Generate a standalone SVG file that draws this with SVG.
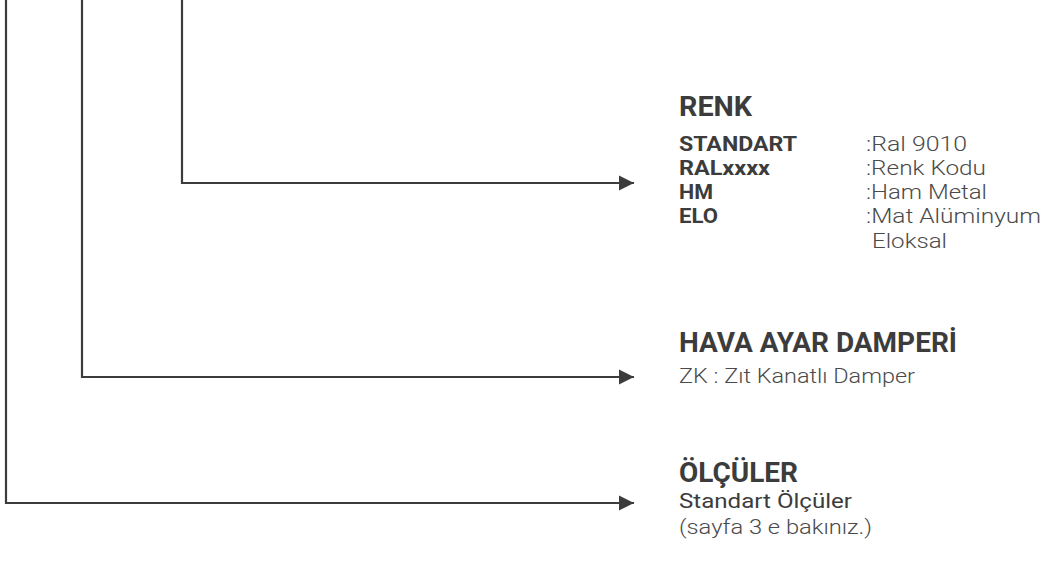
<svg xmlns="http://www.w3.org/2000/svg" width="1049" height="571" viewBox="0 0 1049 571">
<style>
.c{fill:none;stroke:#3c3c3c;stroke-width:2.2}
.h{font-family:Roboto,"Liberation Sans",sans-serif;font-weight:700;font-size:27px;fill:#3c3c3c}
.b{font-family:Roboto,"Liberation Sans",sans-serif;font-weight:700;font-size:20px;fill:#3c3c3c}
.m{font-family:Roboto,"Liberation Sans",sans-serif;font-weight:400;font-size:21px;fill:#3c3c3c}
.l{font-family:Roboto,"Liberation Sans",sans-serif;font-weight:300;font-size:21px;fill:#4a4a4a}
</style>
<defs>
<marker id="ah" markerWidth="16" markerHeight="16" refX="15" refY="8" orient="auto" markerUnits="userSpaceOnUse">
<path d="M0,0.5 L15,8 L0,15.5 Z" fill="#3c3c3c"/>
</marker>
</defs>
<g id="connectors">
<path class="c" d="M182,0 V183 H634" marker-end="url(#ah)"/>
<path class="c" d="M82,0 V377 H634" marker-end="url(#ah)"/>
<path class="c" d="M6,0 V503 H634" marker-end="url(#ah)"/>
</g>
<g id="renk">
<text class="h" x="679" y="116" textLength="73" lengthAdjust="spacingAndGlyphs">RENK</text>
<text class="b" x="679" y="151" textLength="118" lengthAdjust="spacingAndGlyphs">STANDART</text>
<text class="b" x="679" y="175" textLength="91" lengthAdjust="spacingAndGlyphs">RALxxxx</text>
<text class="b" x="679" y="199" textLength="34" lengthAdjust="spacingAndGlyphs">HM</text>
<text class="b" x="679" y="223" textLength="39" lengthAdjust="spacingAndGlyphs">ELO</text>
<text class="l" x="866" y="151" textLength="101" lengthAdjust="spacingAndGlyphs">:Ral 9010</text>
<text class="l" x="866" y="175" textLength="120" lengthAdjust="spacingAndGlyphs">:Renk Kodu</text>
<text class="l" x="866" y="199" textLength="121" lengthAdjust="spacingAndGlyphs">:Ham Metal</text>
<text class="l" x="866" y="223" textLength="175" lengthAdjust="spacingAndGlyphs">:Mat Alüminyum</text>
<text class="l" x="872" y="248" textLength="75" lengthAdjust="spacingAndGlyphs">Eloksal</text>
</g>
<g id="damper">
<text class="h" x="679" y="352" textLength="278" lengthAdjust="spacingAndGlyphs">HAVA AYAR DAMPERİ</text>
<text class="l" x="679" y="383" textLength="236" lengthAdjust="spacingAndGlyphs">ZK : Zıt Kanatlı Damper</text>
</g>
<g id="olculer">
<text class="h" x="679" y="482" textLength="119" lengthAdjust="spacingAndGlyphs">ÖLÇÜLER</text>
<text class="m" x="679" y="508" textLength="173" lengthAdjust="spacingAndGlyphs">Standart Ölçüler</text>
<text class="l" x="679" y="534" textLength="193" lengthAdjust="spacingAndGlyphs">(sayfa 3 e bakınız.)</text>
</g>
</svg>
